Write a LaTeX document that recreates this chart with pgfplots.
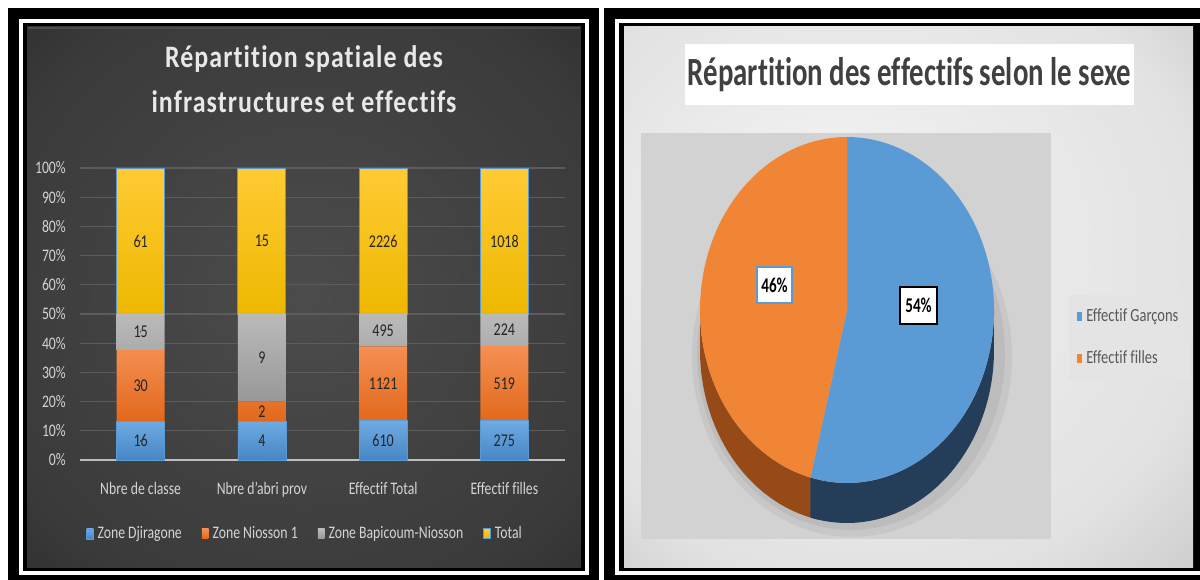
\documentclass[border=0pt]{standalone}
\usepackage{pgfplots}
\pgfplotsset{compat=1.18}
\usepackage{fontspec}
\setmainfont{Carlito}[FakeStretch=0.78,Ligatures=NoCommon]
\newfontfamily\titlefont{Carlito}[FakeStretch=0.72,Ligatures=NoCommon]
\newfontfamily\spacedfont{Carlito}[FakeStretch=0.83,LetterSpace=3.5,Ligatures=NoCommon]

\definecolor{cbluetop}{RGB}{112,172,228}
\definecolor{cbluebot}{RGB}{70,134,197}
\definecolor{cblue}{RGB}{91,155,213}
\definecolor{corangetop}{RGB}{245,143,84}
\definecolor{corangebot}{RGB}{226,104,26}
\definecolor{cgraytop}{RGB}{186,186,186}
\definecolor{cgraybot}{RGB}{152,152,152}
\definecolor{cgoldtop}{RGB}{255,203,52}
\definecolor{cgoldbot}{RGB}{238,184,0}
\definecolor{bginner}{RGB}{76,76,76}
\definecolor{bgmid}{RGB}{58,58,58}
\definecolor{bgouter}{RGB}{30,30,30}
\definecolor{gridc}{RGB}{92,92,92}
\definecolor{axisc}{RGB}{190,190,190}
\definecolor{labc}{RGB}{212,212,212}
\definecolor{titlec}{RGB}{232,232,232}
\definecolor{datac}{RGB}{38,38,38}
\definecolor{pinner}{RGB}{244,244,244}
\definecolor{pmid}{RGB}{226,226,226}
\definecolor{pouter}{RGB}{178,178,178}
\definecolor{plotc}{RGB}{210,210,210}
\definecolor{pieblue}{RGB}{91,155,213}
\definecolor{pieorange}{RGB}{240,133,53}
\definecolor{sideblue}{RGB}{36,62,89}
\definecolor{sideorange}{RGB}{150,74,24}
\definecolor{pietitle}{RGB}{64,64,64}
\definecolor{plegc}{RGB}{89,89,89}
\definecolor{plegbg}{RGB}{228,228,228}

\pgfdeclareradialshading{darkbg}{\pgfpoint{0bp}{0bp}}{color(0bp)=(bginner); color(30bp)=(bgmid); color(50bp)=(bgouter)}
\pgfdeclareradialshading{lightbg}{\pgfpoint{-8bp}{8bp}}{color(0bp)=(pinner); color(30bp)=(pmid); color(50bp)=(pouter)}

\begin{document}
\begin{tikzpicture}
\useasboundingbox (0pt,0pt) rectangle (600pt,289.5pt);
\clip (0pt,0pt) rectangle (600pt,289.5pt);
\begin{scope}[x=0.5pt,y=0.5pt]
\fill[white] (0,0) rectangle (1200,579);
% ---- left panel frame
\fill[black] (8,-10) rectangle (599,571);
\draw[white,line width=2pt] (21,6) rectangle (587,558);
\shade[shading=darkbg] (27,12) rectangle (581,552);
\draw[gray!60!black, line width=1pt] (28,551) -- (580,551);
% ---- right panel frame
\fill[black] (604,-10) rectangle (1220,571);
\draw[white,line width=2pt] (617,6) rectangle (1240,558);
\shade[shading=lightbg] (624,12) rectangle (1193,552);
\fill[plotc] (641,40) rectangle (1051,446);
\fill[white] (685,474) rectangle (1134,535);
% ---- titles
\node[font=\spacedfont\bfseries\fontsize{15.6}{22.5}\selectfont, text=titlec, align=center] at (304,499.5)
  {Répartition spatiale des\\infrastructures et effectifs};
\node[font=\titlefont\bfseries\fontsize{20}{24}\selectfont, text=pietitle] at (909.5,504.5)
  {Répartition des effectifs selon le sexe};
\end{scope}

% ---- stacked 100% bars
\begin{axis}[
  at={(40pt,59.5pt)}, anchor=south west, scale only axis,
  width=242.5pt, height=146pt,
  ybar stacked, bar width=24pt,
  xmin=-0.5, xmax=3.5, ymin=0, ymax=100,
  xtick={0,1,2,3},
  xticklabels={Nbre de classe, Nbre d'abri prov, Effectif Total, Effectif filles},
  ytick={0,10,...,100},
  yticklabel={\pgfmathprintnumber{\tick}\%},
  /pgf/number format/assume math mode=true,
  axis lines*=left,
  y axis line style={draw=none},
  x axis line style={draw=axisc, line width=1pt},
  major tick length=0pt,
  ymajorgrids, grid style={draw=gridc, line width=0.6pt},
  tick label style={font=\fontsize{8.8}{10}\selectfont, text=labc},
  xticklabel style={yshift=-7.5pt},
  yticklabel style={xshift=-3.6pt},
  legend style={at={(0.466,-0.253)}, anchor=center, draw=none, fill=none,
     font=\fontsize{8.8}{10}\selectfont, text=labc, legend columns=4,
     /tikz/every even column/.append style={column sep=8pt}},
  legend image code/.code={\fill[#1] (0pt,-2.5pt) rectangle (3.4pt,2.5pt);},
]
\addplot[top color=cbluetop, bottom color=cbluebot, draw=cblue, line width=0.3pt]
  coordinates {(0,13.115) (1,13.333) (2,13.702) (3,13.507)};
\addplot[top color=corangetop, bottom color=corangebot, draw=none]
  coordinates {(0,24.590) (1,6.667) (2,25.180) (3,25.491)};
\addplot[top color=cgraytop, bottom color=cgraybot, draw=none]
  coordinates {(0,12.295) (1,30.000) (2,11.119) (3,11.002)};
\addplot[top color=cgoldtop, bottom color=cgoldbot, draw=cblue, line width=0.4pt]
  coordinates {(0,50) (1,50) (2,50) (3,50)};
\legend{Zone Djiragone, Zone Niosson 1, Zone Bapicoum-Niosson, Total}
\end{axis}

% ---- value labels (raw counts), centred in each segment
\begin{axis}[
  at={(40pt,59.5pt)}, anchor=south west, scale only axis,
  width=242.5pt, height=146pt,
  xmin=-0.5, xmax=3.5, ymin=0, ymax=100, hide axis,
  nodes near coords, point meta=explicit symbolic,
  nodes near coords style={anchor=center, font=\fontsize{9}{10}\selectfont, text=datac, inner sep=0pt},
]
\addplot[only marks, mark=*, mark size=0.01pt, mark options={draw=none,fill=none}]
  coordinates {(0,6.557)[16] (1,6.667)[4] (2,6.851)[610] (3,6.753)[275]};
\addplot[only marks, mark=*, mark size=0.01pt, mark options={draw=none,fill=none}]
  coordinates {(0,25.410)[30] (1,16.667)[2] (2,26.292)[1121] (3,26.252)[519]};
\addplot[only marks, mark=*, mark size=0.01pt, mark options={draw=none,fill=none}]
  coordinates {(0,43.852)[15] (1,35.000)[9] (2,44.441)[495] (3,44.499)[224]};
\addplot[only marks, mark=*, mark size=0.01pt, mark options={draw=none,fill=none}]
  coordinates {(0,75)[61] (1,75)[15] (2,75)[2226] (3,75)[1018]};
\end{axis}

% ---- pie (54% / 46%)
\begin{axis}[
  at={(320.5pt,20pt)}, anchor=south west, scale only axis,
  width=205pt, height=203pt,
  xmin=641, xmax=1051, ymin=40, ymax=446,
  hide axis, clip=false,
  legend style={at={(1.044,0.603)}, anchor=north west, fill=plegbg, draw=none,
     font=\fontsize{9.3}{11}\selectfont, text=plegc, row sep=9pt,
     inner xsep=4pt, inner ysep=5pt},
  legend cell align=left,
  legend image code/.code={\fill[#1] (0pt,-2.4pt) rectangle (2.4pt,2.4pt);},
]
% soft shadow under the pie
\addplot[fill=black, fill opacity=0.05, draw=none, domain=0:360, samples=90, forget plot]
  ({852+160*cos(x)},{222+180*sin(x)});
\addplot[fill=black, fill opacity=0.05, draw=none, domain=0:360, samples=90, forget plot]
  ({851+154*cos(x)},{225+176*sin(x)});
% side walls (top arc, then bottom arc back); orange first, slightly overlapped
\addplot[fill=sideorange, draw=none, variable=\t, domain=0:2, samples=121, forget plot]
  ({847+147*cos(((\t<1) ? (-180+80*\t) : (-20-80*\t)))},
   {((\t<1) ? 269 : 229)+173*sin(((\t<1) ? (-180+80*\t) : (-20-80*\t)))}) -- cycle;
\addplot[fill=sideblue, draw=none, variable=\t, domain=0:2, samples=121, forget plot]
  ({847+147*cos(((\t<1) ? (-104.4+104.4*\t) : (104.4-104.4*\t)))},
   {((\t<1) ? 269 : 229)+173*sin(((\t<1) ? (-104.4+104.4*\t) : (104.4-104.4*\t)))}) -- cycle;
% top faces
\addplot[fill=pieblue, draw=none, domain=-104.4:90, samples=120]
  ({847+147*cos(x)},{269+173*sin(x)}) -- (847,269) -- cycle;
\addlegendentry{Effectif Garçons}
\addplot[fill=pieorange, draw=none, domain=90:255.6, samples=120]
  ({847+147*cos(x)},{269+173*sin(x)}) -- (847,269) -- cycle;
\addlegendentry{Effectif filles}
\node[fill=white, draw=cblue, line width=1pt, inner sep=0pt, minimum width=17.5pt,
  minimum height=18pt, font=\titlefont\bfseries\fontsize{10.5}{12}\selectfont, text=black]
  at (774.5,294) {46\%};
\node[fill=white, draw=black, line width=1pt, inner sep=0pt, minimum width=18.5pt,
  minimum height=18.5pt, font=\titlefont\bfseries\fontsize{10.5}{12}\selectfont, text=black]
  at (918.5,273.5) {54\%};
\end{axis}
\end{tikzpicture}
\end{document}
